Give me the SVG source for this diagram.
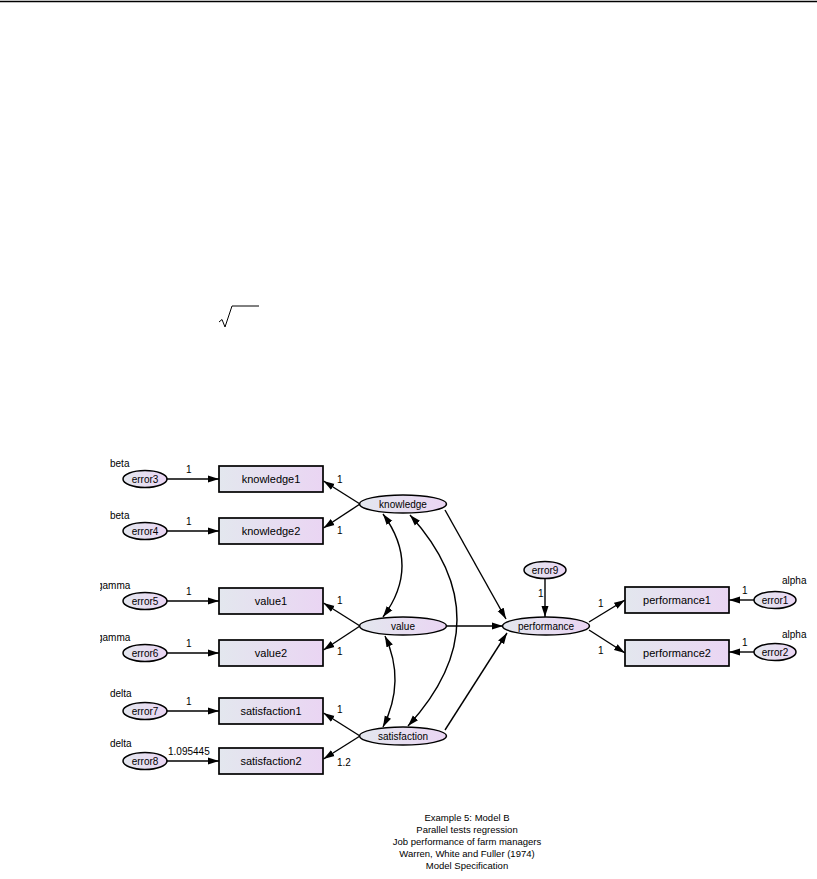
<svg xmlns="http://www.w3.org/2000/svg" width="817" height="879" viewBox="0 0 817 879">
<defs>
<linearGradient id="g" x1="0" y1="0" x2="1" y2="0">
<stop offset="0" stop-color="#e3e7ee"/>
<stop offset="1" stop-color="#ead5f3"/>
</linearGradient>
<marker id="ah" markerUnits="userSpaceOnUse" markerWidth="12" markerHeight="8" refX="11" refY="4" orient="auto-start-reverse">
<path d="M0,0.5 L11,4 L0,7.5 z" fill="#000"/>
</marker>
<clipPath id="clipg"><rect x="100" y="560" width="60" height="100"/></clipPath>
</defs>
<style>
text{font-family:"Liberation Sans",Arial,sans-serif;fill:#000}
.box{fill:url(#g);stroke:#000;stroke-width:1.7}
.ell{fill:url(#g);stroke:#000;stroke-width:1.5}
.nl{font-size:11px;text-anchor:middle}
.el{font-size:10px;text-anchor:middle}
.lb{font-size:10px}
.cap{font-size:9.5px;text-anchor:middle}
.a{fill:none;stroke:#000;stroke-width:1.4;marker-end:url(#ah)}
.d{fill:none;stroke:#000;stroke-width:1.4;marker-start:url(#ah);marker-end:url(#ah)}
</style>
<line x1="0" y1="1.5" x2="817" y2="1.5" stroke="#000" stroke-width="1.4"/>
<polyline points="219,322 222,319.5 225,327 232,306 259,306" fill="none" stroke="#000" stroke-width="1"/>

<g id="connectors">
<path class="a" d="M167,479 L219,479"/>
<path class="a" d="M167,531 L219,531"/>
<path class="a" d="M167,601 L219,601"/>
<path class="a" d="M167,653 L219,653"/>
<path class="a" d="M167,711 L219,711"/>
<path class="a" d="M167,761 L219,761"/>
<path class="a" d="M360,504 L323.5,481"/>
<path class="a" d="M360,504 L323.5,528"/>
<path class="a" d="M360,626 L323.5,603"/>
<path class="a" d="M360,626 L323.5,650"/>
<path class="a" d="M360,736 L323.5,713"/>
<path class="a" d="M360,736 L323.5,759"/>
<path class="a" d="M445,510 L506,619"/>
<path class="a" d="M447,626 L503,626"/>
<path class="a" d="M445,730 L507,633"/>
<path class="a" d="M545,579 L545,617"/>
<path class="a" d="M589,622 L625,600"/>
<path class="a" d="M589,630 L625,653"/>
<path class="a" d="M754,600 L729,600"/>
<path class="a" d="M754,652 L729,652"/>
<path class="d" d="M383,514 Q421,566 383,617"/>
<path class="d" d="M385,636 Q406,681 383,727"/>
<path class="d" d="M410,515 Q505,620 408,726"/>
</g>

<g id="error3"><ellipse class="ell" cx="145" cy="479" rx="22" ry="8.5"/><text class="el" x="145" y="482.5">error3</text><text class="lb" x="110" y="467">beta</text><text class="lb" x="186" y="473">1</text></g>
<g id="error4"><ellipse class="ell" cx="145" cy="531" rx="22" ry="8.5"/><text class="el" x="145" y="534.5">error4</text><text class="lb" x="110" y="519">beta</text><text class="lb" x="186" y="525">1</text></g>
<g id="error5"><ellipse class="ell" cx="145" cy="601" rx="22" ry="8.5"/><text class="el" x="145" y="604.5">error5</text><text class="lb" x="97" y="589" clip-path="url(#clipg)">gamma</text><text class="lb" x="186" y="595">1</text></g>
<g id="error6"><ellipse class="ell" cx="145" cy="653" rx="22" ry="8.5"/><text class="el" x="145" y="656.5">error6</text><text class="lb" x="97" y="641" clip-path="url(#clipg)">gamma</text><text class="lb" x="186" y="647">1</text></g>
<g id="error7"><ellipse class="ell" cx="145" cy="711" rx="22" ry="8.5"/><text class="el" x="145" y="714.5">error7</text><text class="lb" x="110" y="697">delta</text><text class="lb" x="186" y="705">1</text></g>
<g id="error8"><ellipse class="ell" cx="145" cy="761" rx="22" ry="8.5"/><text class="el" x="145" y="764.5">error8</text><text class="lb" x="110" y="747">delta</text><text class="lb" x="168" y="755">1.095445</text></g>

<g id="knowledge1"><rect class="box" x="219" y="466" width="104" height="26"/><text class="nl" x="271" y="483">knowledge1</text><text class="lb" x="337" y="483">1</text></g>
<g id="knowledge2"><rect class="box" x="219" y="518" width="104" height="26"/><text class="nl" x="271" y="535">knowledge2</text><text class="lb" x="337" y="534">1</text></g>
<g id="value1"><rect class="box" x="219" y="588" width="104" height="26"/><text class="nl" x="271" y="605">value1</text><text class="lb" x="337" y="604">1</text></g>
<g id="value2"><rect class="box" x="219" y="640" width="104" height="26"/><text class="nl" x="271" y="657">value2</text><text class="lb" x="337" y="655">1</text></g>
<g id="satisfaction1"><rect class="box" x="219" y="698" width="104" height="26"/><text class="nl" x="271" y="715">satisfaction1</text><text class="lb" x="337" y="713">1</text></g>
<g id="satisfaction2"><rect class="box" x="219" y="748" width="104" height="26"/><text class="nl" x="271" y="765">satisfaction2</text><text class="lb" x="337" y="766">1.2</text></g>

<g id="knowledge"><ellipse class="ell" cx="403" cy="504" rx="43.5" ry="9"/><text class="el" x="403" y="507.5">knowledge</text></g>
<g id="value"><ellipse class="ell" cx="403" cy="626" rx="43.5" ry="9"/><text class="el" x="403" y="629.5">value</text></g>
<g id="satisfaction"><ellipse class="ell" cx="403" cy="736" rx="43.5" ry="9"/><text class="el" x="403" y="739.5">satisfaction</text></g>

<g id="error9"><ellipse class="ell" cx="545" cy="570" rx="21" ry="8.5"/><text class="el" x="545" y="573.5">error9</text><text class="lb" x="538" y="597">1</text></g>
<g id="performance"><ellipse class="ell" cx="546" cy="626" rx="43.5" ry="9"/><text class="el" x="546" y="629.5">performance</text></g>

<g id="performance1"><rect class="box" x="625" y="587" width="104" height="26"/><text class="nl" x="677" y="604">performance1</text><text class="lb" x="598" y="607">1</text></g>
<g id="performance2"><rect class="box" x="625" y="640" width="104" height="26"/><text class="nl" x="677" y="657">performance2</text><text class="lb" x="598" y="654">1</text></g>

<g id="error1"><ellipse class="ell" cx="775" cy="600" rx="21" ry="8.5"/><text class="el" x="775" y="603.5">error1</text><text class="lb" x="782" y="584">alpha</text><text class="lb" x="742" y="594">1</text></g>
<g id="error2"><ellipse class="ell" cx="775" cy="652" rx="21" ry="8.5"/><text class="el" x="775" y="655.5">error2</text><text class="lb" x="782" y="638">alpha</text><text class="lb" x="742" y="646">1</text></g>

<g id="caption">
<text class="cap" x="467" y="821">Example 5: Model B</text>
<text class="cap" x="467" y="833">Parallel tests regression</text>
<text class="cap" x="467" y="845">Job performance of farm managers</text>
<text class="cap" x="467" y="857">Warren, White and Fuller (1974)</text>
<text class="cap" x="467" y="869">Model Specification</text>
</g>
</svg>
